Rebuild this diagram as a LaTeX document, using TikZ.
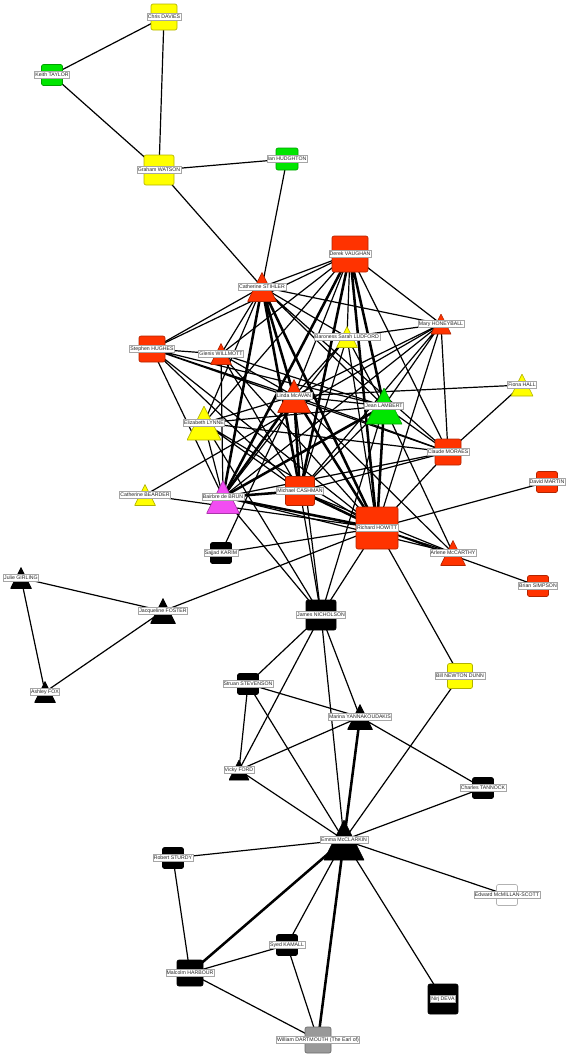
\documentclass[tikz,border=0pt]{standalone}
\usepackage{fontspec}
\setmainfont{Liberation Sans}
\usepackage{tikz}
\definecolor{redmep}{HTML}{FF3300}
\definecolor{yellowmep}{HTML}{FFFF00}
\definecolor{greenmep}{HTML}{00E600}
\definecolor{pinkmep}{HTML}{F24DF2}
\definecolor{greymep}{HTML}{999999}
\definecolor{blackmep}{HTML}{000000}
\pgfdeclarelayer{edges}
\pgfsetlayers{edges,main}

\begin{document}
\begin{tikzpicture}[
  x=0.75pt, y=-0.75pt,
  every node/.style={font=\fontsize{3.9}{4.5}\selectfont},
  sq/.style 2 args={
    rectangle, rounded corners=1.5pt, inner sep=0pt,
    minimum size=#1*0.75pt, fill=#2, draw=#2!70!black, line width=0.5pt
  },
  tri/.style 2 args={
    rectangle, inner sep=0pt, minimum size=#1*0.75pt,
    path picture={\filldraw[fill=#2, draw=#2!70!black, line width=0.5pt]
      (path picture bounding box.south west) -- (path picture bounding box.south east)
      -- (path picture bounding box.north) -- cycle;}
  },
  lbl/.style={
    fill=white, draw=gray!70, line width=0.3pt, text=black!85,
    inner xsep=0.6pt, inner ysep=0.8pt, text height=2.8pt, text depth=0.8pt
  },
  tie/.style={line width=0.9pt},
  strong/.style={line width=1.9pt}
]
  \useasboundingbox (0,0) rectangle (570,1058);

  % top cluster
  \node[sq={26}{yellowmep}, label={[lbl]center:Chris DAVIES}] (davies) at (164,17) {};
  \node[sq={21}{greenmep}, label={[lbl]center:Keith TAYLOR}] (taylor) at (52,75) {};
  \node[sq={30}{yellowmep}, label={[lbl]center:Graham WATSON}] (watson) at (159,170) {};
  \node[sq={22}{greenmep}, label={[lbl]center:Ian HUDGHTON}] (hudghton) at (287,159) {};

  % core
  \node[tri={29}{redmep}, label={[lbl]center:Catherine STIHLER}] (stihler) at (262,287) {};
  \node[sq={36}{redmep}, label={[lbl]center:Derek VAUGHAN}] (vaughan) at (350,254) {};
  \node[sq={26}{redmep}, label={[lbl]center:Stephen HUGHES}] (hughes) at (152,349) {};
  \node[tri={21}{redmep}, label={[lbl]center:Glenis WILLMOTT}] (willmott) at (221,354) {};
  \node[tri={21}{yellowmep}, label={[lbl]center:Baroness Sarah LUDFORD}] (ludford) at (347,337) {};
  \node[tri={20}{redmep}, label={[lbl]center:Mary HONEYBALL}] (honeyball) at (441,324) {};
  \node[tri={22}{yellowmep}, label={[lbl]center:Fiona HALL}] (hall) at (522,385) {};
  \node[tri={33}{redmep}, label={[lbl]center:Linda McAVAN}] (mcavan) at (294,396) {};
  \node[tri={36}{greenmep}, label={[lbl]center:Jean LAMBERT}] (lambert) at (384,406) {};
  \node[tri={34}{yellowmep}, label={[lbl]center:Elizabeth LYNNE}] (lynne) at (204,423) {};
  \node[sq={26}{redmep}, label={[lbl]center:Claude MORAES}] (moraes) at (448,452) {};
  \node[tri={21}{yellowmep}, label={[lbl]center:Catherine BEARDER}] (bearder) at (145,495) {};
  \node[tri={33}{pinkmep}, label={[lbl]center:Bairbre de BRUN}] (debrun) at (223,497) {};
  \node[sq={29}{redmep}, label={[lbl]center:Michael CASHMAN}] (cashman) at (300,491) {};
  \node[sq={42}{redmep}, label={[lbl]center:Richard HOWITT}] (howitt) at (377,528) {};
  \node[sq={21}{redmep}, label={[lbl]center:David MARTIN}] (martin) at (547,482) {};
  \node[tri={25}{redmep}, label={[lbl]center:Arlene McCARTHY}] (mccarthy) at (453,553) {};
  \node[sq={21}{redmep}, label={[lbl]center:Brian SIMPSON}] (simpson) at (538,586) {};

  % lower cluster
  \node[sq={21}{blackmep}, label={[lbl]center:Sajjad KARIM}] (karim) at (221,553) {};
  \node[tri={21}{blackmep}, label={[lbl]center:Julie GIRLING}] (girling) at (21,578) {};
  \node[tri={25}{blackmep}, label={[lbl]center:Jacqueline FOSTER}] (foster) at (163,611) {};
  \node[tri={21}{blackmep}, label={[lbl]center:Ashley FOX}] (fox) at (45,692) {};
  \node[sq={30}{blackmep}, label={[lbl]center:James NICHOLSON}] (nicholson) at (321,615) {};
  \node[sq={21}{blackmep}, label={[lbl]center:Struan STEVENSON}] (stevenson) at (248,684) {};
  \node[tri={25}{blackmep}, label={[lbl]center:Marina YANNAKOUDAKIS}] (yannakoudakis) at (360,717) {};
  \node[sq={25}{yellowmep}, label={[lbl]center:Bill NEWTON DUNN}] (newtondunn) at (460,676) {};
  \node[tri={20}{blackmep}, label={[lbl]center:Vicky FORD}] (ford) at (239,770) {};
  \node[sq={21}{blackmep}, label={[lbl]center:Charles TANNOCK}] (tannock) at (483,788) {};
  \node[tri={40}{blackmep}, label={[lbl]center:Emma McCLARKIN}] (mcclarkin) at (344,840) {};
  \node[sq={21}{blackmep}, label={[lbl]center:Robert STURDY}] (sturdy) at (173,858) {};
  \node[sq={21}{white}, label={[lbl]center:Edward McMILLAN-SCOTT}] (mcmillanscott) at (507,895) {};
  \node[sq={21}{blackmep}, label={[lbl]center:Syed KAMALL}] (kamall) at (287,945) {};
  \node[sq={26}{blackmep}, label={[lbl]center:Malcolm HARBOUR}] (harbour) at (190,973) {};
  \node[sq={30}{blackmep}, label={[lbl]center:Nirj DEVA}] (deva) at (443,999) {};
  \node[sq={26}{greymep}, label={[lbl]center:William DARTMOUTH (The Earl of)}] (dartmouth) at (318,1040) {};

  \begin{pgfonlayer}{edges}
    \draw[tie] (davies.center) -- (taylor.center) (davies.center) -- (watson.center)
      (taylor.center) -- (watson.center);
    \draw[tie] (watson.center) -- (hudghton.center) (watson.center) -- (stihler.center)
      (hudghton.center) -- (stihler.center);

    \draw[tie] (stihler.center) -- (vaughan.center) (stihler.center) -- (hughes.center)
      (stihler.center) -- (lambert.center) (stihler.center) -- (moraes.center)
      (stihler.center) -- (honeyball.center) (stihler.center) -- (lynne.center)
      (stihler.center) -- (ludford.center) (stihler.center) -- (willmott.center);
    \draw[strong] (stihler.center) -- (mcavan.center) (stihler.center) -- (debrun.center)
      (stihler.center) -- (cashman.center) (stihler.center) -- (howitt.center);

    \draw[tie] (vaughan.center) -- (hughes.center) (vaughan.center) -- (willmott.center)
      (vaughan.center) -- (moraes.center) (vaughan.center) -- (honeyball.center)
      (vaughan.center) -- (lynne.center) (vaughan.center) -- (ludford.center)
      (vaughan.center) -- (mcavan.center);
    \draw[strong] (vaughan.center) -- (lambert.center) (vaughan.center) -- (debrun.center)
      (vaughan.center) -- (cashman.center) (vaughan.center) -- (howitt.center);

    \draw[tie] (hughes.center) -- (mcavan.center) (hughes.center) -- (lambert.center)
      (hughes.center) -- (debrun.center) (hughes.center) -- (cashman.center)
      (hughes.center) -- (howitt.center) (hughes.center) -- (moraes.center)
      (hughes.center) -- (willmott.center);
    \draw[tie] (willmott.center) -- (mcavan.center) (willmott.center) -- (debrun.center)
      (willmott.center) -- (howitt.center) (willmott.center) -- (lambert.center)
      (willmott.center) -- (cashman.center);
    \draw[tie] (ludford.center) -- (mcavan.center) (ludford.center) -- (lambert.center)
      (ludford.center) -- (debrun.center) (ludford.center) -- (howitt.center)
      (ludford.center) -- (honeyball.center) (ludford.center) -- (cashman.center);
    \draw[tie] (honeyball.center) -- (mcavan.center) (honeyball.center) -- (lambert.center)
      (honeyball.center) -- (debrun.center) (honeyball.center) -- (howitt.center)
      (honeyball.center) -- (moraes.center) (honeyball.center) -- (cashman.center);

    \draw[tie] (mcavan.center) -- (lambert.center) (mcavan.center) -- (lynne.center)
      (mcavan.center) -- (moraes.center) (mcavan.center) -- (nicholson.center)
      (mcavan.center) -- (hall.center) (mcavan.center) -- (karim.center)
      (mcavan.center) -- (mccarthy.center);
    \draw[strong] (mcavan.center) -- (debrun.center) (mcavan.center) -- (cashman.center)
      (mcavan.center) -- (howitt.center);
    \draw[tie] (lambert.center) -- (lynne.center) (lambert.center) -- (cashman.center)
      (lambert.center) -- (moraes.center) (lambert.center) -- (nicholson.center)
      (lambert.center) -- (mccarthy.center);
    \draw[strong] (lambert.center) -- (debrun.center) (lambert.center) -- (howitt.center);
    \draw[tie] (lynne.center) -- (debrun.center) (lynne.center) -- (cashman.center)
      (lynne.center) -- (howitt.center) (lynne.center) -- (moraes.center)
      (lynne.center) -- (nicholson.center);
    \draw[tie] (bearder.center) -- (honeyball.center) (bearder.center) -- (howitt.center);
    \draw[tie] (debrun.center) -- (moraes.center) (debrun.center) -- (nicholson.center)
      (debrun.center) -- (mccarthy.center);
    \draw[strong] (debrun.center) -- (cashman.center) (debrun.center) -- (howitt.center);
    \draw[tie] (cashman.center) -- (moraes.center) (cashman.center) -- (nicholson.center)
      (cashman.center) -- (mccarthy.center);
    \draw[strong] (cashman.center) -- (howitt.center);
    \draw[tie] (howitt.center) -- (moraes.center) (howitt.center) -- (mccarthy.center)
      (howitt.center) -- (nicholson.center) (howitt.center) -- (martin.center)
      (howitt.center) -- (newtondunn.center) (howitt.center) -- (simpson.center)
      (howitt.center) -- (foster.center) (howitt.center) -- (karim.center);
    \draw[tie] (moraes.center) -- (hall.center);

    \draw[tie] (foster.center) -- (girling.center) (foster.center) -- (fox.center)
      (girling.center) -- (fox.center);
    \draw[tie] (nicholson.center) -- (stevenson.center) (nicholson.center) -- (yannakoudakis.center)
      (nicholson.center) -- (ford.center) (nicholson.center) -- (mcclarkin.center);
    \draw[tie] (stevenson.center) -- (ford.center) (stevenson.center) -- (yannakoudakis.center)
      (stevenson.center) -- (mcclarkin.center);
    \draw[tie] (ford.center) -- (yannakoudakis.center) (ford.center) -- (mcclarkin.center);
    \draw[tie] (yannakoudakis.center) -- (tannock.center);
    \draw[strong] (yannakoudakis.center) -- (mcclarkin.center);
    \draw[tie] (mcclarkin.center) -- (tannock.center) (mcclarkin.center) -- (newtondunn.center)
      (mcclarkin.center) -- (sturdy.center) (mcclarkin.center) -- (mcmillanscott.center)
      (mcclarkin.center) -- (kamall.center) (mcclarkin.center) -- (deva.center);
    \draw[strong] (mcclarkin.center) -- (harbour.center) (mcclarkin.center) -- (dartmouth.center);
    \draw[tie] (sturdy.center) -- (harbour.center) (harbour.center) -- (kamall.center)
      (harbour.center) -- (dartmouth.center) (kamall.center) -- (dartmouth.center);
  \end{pgfonlayer}
\end{tikzpicture}
\end{document}
